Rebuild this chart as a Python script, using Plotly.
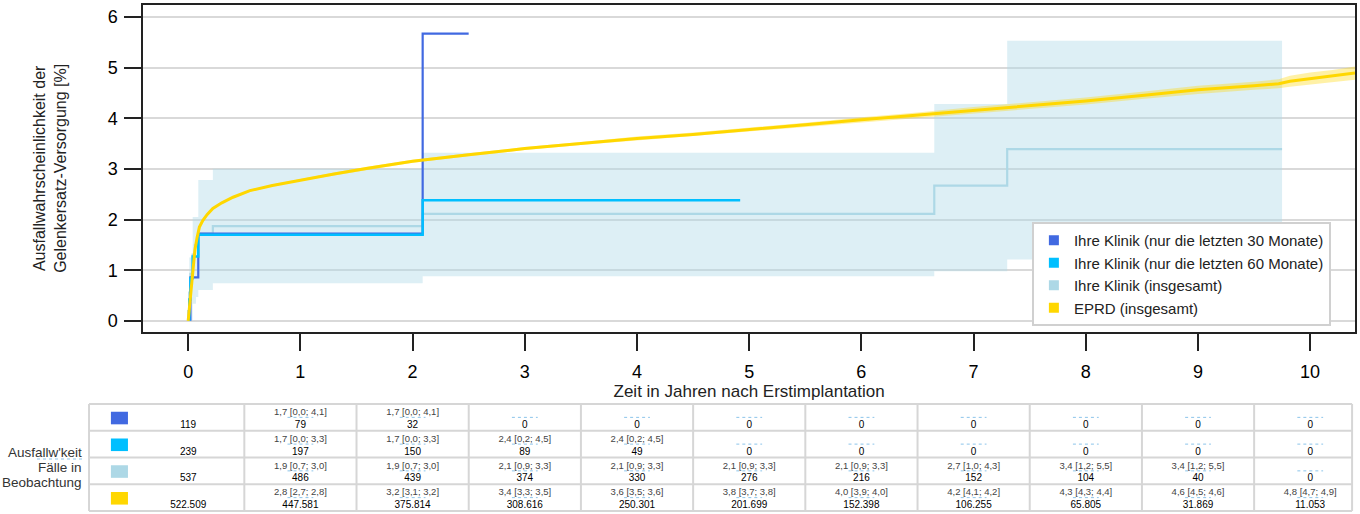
import plotly.graph_objects as go

# Farben und Namen der vier Kurven
farben = ["royalblue", "deepskyblue", "lightblue", "gold"]
namen = ["Ihre Klinik (nur die letzten 30 Monate)",
         "Ihre Klinik (nur die letzten 60 Monate)",
         "Ihre Klinik (insgesamt)",
         "EPRD (insgesamt)"]

jahre = [0, 1, 2, 3, 4, 5, 6, 7, 8, 9, 10]

# Ihre Klinik - letzte 30 Monate (Treppenkurve)
x_30 = [0.02, 0.02, 0.09, 2.09, 2.50]
y_30 = [0.0, 0.86, 1.72, 5.67, 5.67]

# Ihre Klinik - letzte 60 Monate
x_60 = [0.01, 0.01, 0.02, 0.04, 0.09, 2.09, 4.92]
y_60 = [0.0, 0.42, 0.84, 1.27, 1.70, 2.38, 2.38]

# Ihre Klinik - insgesamt
x_ges = [0.0, 0.0, 0.01, 0.02, 0.04, 0.06, 0.09, 0.22, 2.09, 6.65, 7.30, 9.75]
y_ges = [0.0, 0.19, 0.56, 0.93, 1.31, 1.49, 1.72, 1.87, 2.11, 2.67, 3.39, 3.39]

# Konfidenzband Ihre Klinik insgesamt
x_band = [0.0, 0.01, 0.04, 0.07, 0.09, 0.22, 2.09, 6.65, 7.30, 9.75]
lo_band = [0.0, 0.0, 0.34, 0.47, 0.61, 0.74, 0.88, 0.98, 1.21, 1.21]
hi_band = [0.55, 1.25, 2.05, 2.05, 2.78, 3.00, 3.32, 4.28, 5.53, 5.53]

# EPRD insgesamt
x_eprd = [0, 0.02, 0.04, 0.06, 0.08, 0.10, 0.13, 0.17, 0.22, 0.30, 0.40, 0.55, 0.75,
          1.0, 1.3, 1.6, 2.0, 2.5, 3.0, 3.5, 4.0, 4.5, 5.0, 5.5, 6.0, 6.5, 7.0, 7.5,
          8.0, 8.5, 9.0, 9.5, 9.72, 9.82, 10.0, 10.2, 10.4]
y_eprd = [0, 0.50, 1.00, 1.40, 1.65, 1.85, 1.98, 2.10, 2.22, 2.33, 2.44, 2.57, 2.67,
          2.78, 2.90, 3.01, 3.15, 3.28, 3.40, 3.50, 3.60, 3.68, 3.77, 3.87, 3.97, 4.06,
          4.16, 4.25, 4.34, 4.45, 4.56, 4.64, 4.68, 4.73, 4.78, 4.83, 4.89]
lo_eprd = [0, 0.49, 0.98, 1.38, 1.63, 1.83, 1.96, 2.08, 2.20, 2.31, 2.42, 2.55, 2.65,
           2.76, 2.87, 2.98, 3.12, 3.25, 3.37, 3.47, 3.56, 3.64, 3.73, 3.83, 3.92, 4.01,
           4.10, 4.19, 4.27, 4.38, 4.48, 4.56, 4.59, 4.62, 4.66, 4.71, 4.76]
hi_eprd = [0, 0.51, 1.02, 1.42, 1.67, 1.87, 2.00, 2.12, 2.24, 2.35, 2.46, 2.59, 2.69,
           2.80, 2.93, 3.04, 3.18, 3.31, 3.43, 3.53, 3.64, 3.72, 3.81, 3.91, 4.02, 4.11,
           4.22, 4.31, 4.41, 4.52, 4.64, 4.72, 4.77, 4.84, 4.90, 4.95, 5.02]

# Tabelle: Faelle in Beobachtung (Jahr 0..10)
faelle = [
    [119, 79, 32, 0, 0, 0, 0, 0, 0, 0, 0],
    [239, 197, 150, 89, 49, 0, 0, 0, 0, 0, 0],
    [537, 486, 439, 374, 330, 276, 216, 152, 104, 40, 0],
    [522509, 447581, 375814, 308616, 250301, 201699, 152398, 106255, 65805, 31869, 11053],
]
# Tabelle: Ausfallwahrscheinlichkeit [KI] (Jahr 1..10)
ausfall = [
    ["1,7 [0,0; 4,1]", "1,7 [0,0; 4,1]", "", "", "", "", "", "", "", ""],
    ["1,7 [0,0; 3,3]", "1,7 [0,0; 3,3]", "2,4 [0,2; 4,5]", "2,4 [0,2; 4,5]", "", "", "", "", "", ""],
    ["1,9 [0,7; 3,0]", "1,9 [0,7; 3,0]", "2,1 [0,9; 3,3]", "2,1 [0,9; 3,3]", "2,1 [0,9; 3,3]",
     "2,1 [0,9; 3,3]", "2,7 [1,0; 4,3]", "3,4 [1,2; 5,5]", "3,4 [1,2; 5,5]", ""],
    ["2,8 [2,7; 2,8]", "3,2 [3,1; 3,2]", "3,4 [3,3; 3,5]", "3,6 [3,5; 3,6]", "3,8 [3,7; 3,8]",
     "4,0 [3,9; 4,0]", "4,2 [4,1; 4,2]", "4,3 [4,3; 4,4]", "4,6 [4,5; 4,6]", "4,8 [4,7; 4,9]"],
]

fig = go.Figure()

# Konfidenzband Ihre Klinik (insgesamt)
fig.add_trace(go.Scatter(x=x_band, y=lo_band, mode="lines", line=dict(width=0, shape="hv"),
                         showlegend=False, hoverinfo="skip"))
fig.add_trace(go.Scatter(x=x_band, y=hi_band, mode="lines", line=dict(width=0, shape="hv"),
                         fill="tonexty", fillcolor="rgba(173,216,230,0.42)",
                         showlegend=False, hoverinfo="skip"))

# Konfidenzband EPRD
fig.add_trace(go.Scatter(x=x_eprd, y=lo_eprd, mode="lines", line=dict(width=0),
                         showlegend=False, hoverinfo="skip"))
fig.add_trace(go.Scatter(x=x_eprd, y=hi_eprd, mode="lines", line=dict(width=0),
                         fill="tonexty", fillcolor="rgba(255,215,0,0.35)",
                         showlegend=False, hoverinfo="skip"))

# Kurven
fig.add_trace(go.Scatter(x=x_ges, y=y_ges, mode="lines", line=dict(color=farben[2], width=2.2, shape="hv"),
                         showlegend=False))
fig.add_trace(go.Scatter(x=x_30, y=y_30, mode="lines", line=dict(color=farben[0], width=2.2, shape="hv"),
                         showlegend=False))
fig.add_trace(go.Scatter(x=x_60, y=y_60, mode="lines", line=dict(color=farben[1], width=2.5, shape="hv"),
                         showlegend=False))
fig.add_trace(go.Scatter(x=x_eprd, y=y_eprd, mode="lines", line=dict(color=farben[3], width=3),
                         showlegend=False))

# Legende mit Quadraten
for i in range(4):
    fig.add_trace(go.Scatter(x=[None], y=[None], mode="markers", name=namen[i],
                             marker=dict(symbol="square", size=10, color=farben[i])))

# Tabelle unter dem Diagramm
n_x, n_y, n_txt = [], [], []
for r in range(4):
    for c in range(len(jahre)):
        n_x.append(jahre[c])
        n_y.append(r + 0.8)
        n_txt.append(f"{faelle[r][c]:,}".replace(",", "."))
fig.add_trace(go.Scatter(x=n_x, y=n_y, text=n_txt, mode="text", xaxis="x2", yaxis="y2",
                         textfont=dict(size=10, color="black"), showlegend=False, hoverinfo="skip"))

k_x, k_y, k_txt = [], [], []
for r in range(4):
    for c in range(10):
        if ausfall[r][c] != "":
            k_x.append(jahre[c + 1])
            k_y.append(r + 0.33)
            k_txt.append(ausfall[r][c])
fig.add_trace(go.Scatter(x=k_x, y=k_y, text=k_txt, mode="text", xaxis="x2", yaxis="y2",
                         textfont=dict(size=9.5, color="#444"), showlegend=False, hoverinfo="skip"))

shapes = []
rand_links, rand_rechts = -0.884, 10.373
grau = "#d6d6d6"
for r in range(5):
    shapes.append(dict(type="line", xref="x2", yref="y2", x0=rand_links, x1=rand_rechts, y0=r, y1=r,
                       line=dict(color=grau, width=2)))
for xv in [rand_links] + [j + 0.5 for j in jahre[:-1]] + [rand_rechts]:
    shapes.append(dict(type="line", xref="x2", yref="y2", x0=xv, x1=xv, y0=0, y1=4,
                       line=dict(color=grau, width=2)))
for r in range(4):
    # Farbfeld in der ersten Spalte
    shapes.append(dict(type="rect", xref="x2", yref="y2", x0=-0.689, x1=-0.537, y0=r + 0.29, y1=r + 0.76,
                       fillcolor=farben[r], line=dict(width=0)))
    # gepunktete Unterstreichung
    for j in jahre[1:]:
        shapes.append(dict(type="line", xref="x2", yref="y2", x0=j - 0.115, x1=j + 0.115,
                           y0=r + 0.5, y1=r + 0.5, line=dict(color="#8cc4ea", width=1, dash="dot")))
# Unterstreichung unter "Ausfallw'keit"
shapes.append(dict(type="line", xref="paper", yref="paper", x0=-0.0386, x1=-0.0016, y0=0.1061, y1=0.1061,
                   line=dict(color="#8cc4ea", width=1, dash="dot")))

annotations = []
for txt, yv in [("Ausfallw'keit", 0.1179), ("Fälle in", 0.0890), ("Beobachtung", 0.0609)]:
    annotations.append(dict(text=txt, xref="paper", yref="paper", x=-0.0016, y=yv, xanchor="right",
                            yanchor="middle", showarrow=False, font=dict(size=13.5, color="#333")))

achse = dict(showline=True, mirror=True, linecolor="#222", linewidth=2, ticks="outside",
             ticklen=17, tickwidth=2, tickcolor="#222", zeroline=False,
             tickfont=dict(size=18, color="black"))

fig.update_layout(
    width=1360, height=514,
    margin=dict(l=86, r=5, t=4, b=1),
    plot_bgcolor="white", paper_bgcolor="white",
    font=dict(family="Liberation Sans, Arial, sans-serif", color="#222"),
    xaxis=dict(achse, domain=[0.04515, 1], range=[-0.4, 10.4], tickvals=jahre, showgrid=False,
               ticklabelstandoff=5,
               title=dict(text="Zeit in Jahren nach Erstimplantation", font=dict(size=17), standoff=5)),
    yaxis=dict(achse, domain=[0.3556, 0.9986], range=[-0.22, 6.24], tickvals=[0, 1, 2, 3, 4, 5, 6],
               showgrid=True, gridcolor="#d9d9d9", gridwidth=1.5, ticklabelstandoff=3,
               title=dict(text="Ausfallwahrscheinlichkeit der<br>Gelenkersatz-Versorgung [%]",
                          font=dict(size=16), standoff=37)),
    xaxis2=dict(domain=[0, 1], range=[-0.911, 10.399], visible=False, anchor="y2"),
    yaxis2=dict(domain=[0, 0.2181], range=[4.075, -0.075], visible=False, anchor="x2"),
    legend=dict(x=0.981, xanchor="right", y=0.3674, yanchor="bottom", bgcolor="white",
                traceorder="normal", bordercolor="#d0d0d0", borderwidth=2,
                font=dict(size=15, color="#222")),
    shapes=shapes,
    annotations=annotations,
)

# Seitenrand des Browsers entfernen, damit die Grafik bei (0,0) beginnt
fig.write_html("out.html", config={"displayModeBar": False},
               post_script="document.body.style.margin='0';")
